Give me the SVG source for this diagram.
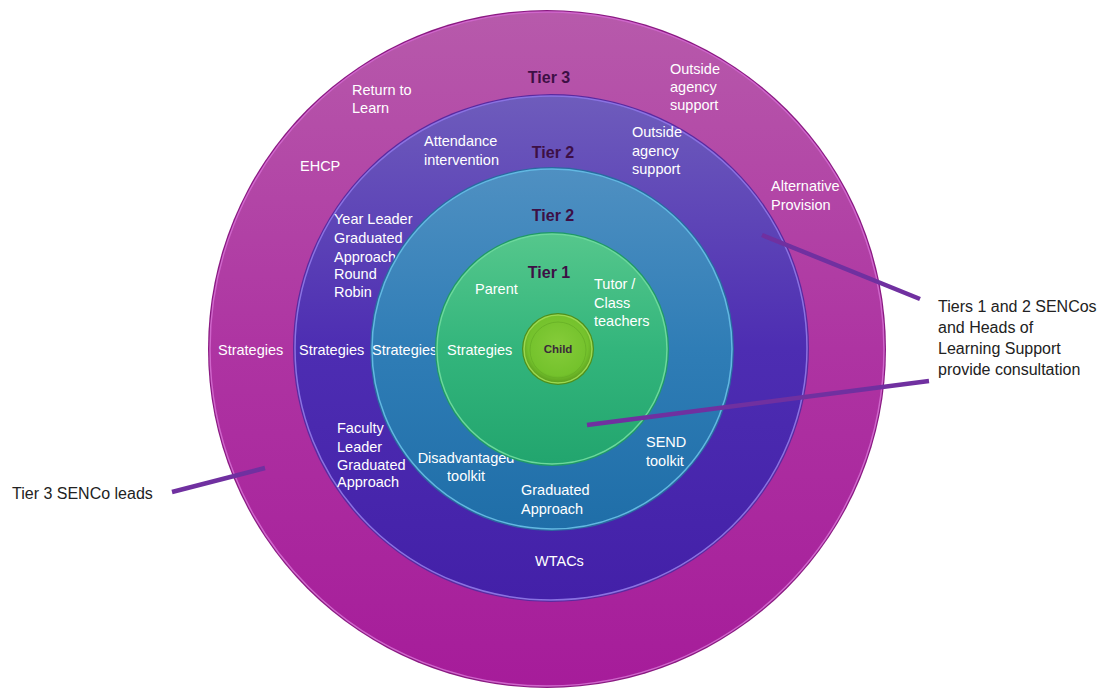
<svg xmlns="http://www.w3.org/2000/svg" width="1105" height="688" viewBox="0 0 1105 688">
<defs>
<linearGradient id="gPink" x1="0" y1="0" x2="0" y2="1">
<stop offset="0" stop-color="#b75aab"/><stop offset="0.5" stop-color="#ae34a2"/><stop offset="1" stop-color="#a61c9a"/>
</linearGradient>
<linearGradient id="gPurple" x1="0" y1="0" x2="0" y2="1">
<stop offset="0" stop-color="#6e5cbc"/><stop offset="0.5" stop-color="#4d2db2"/><stop offset="1" stop-color="#4320a8"/>
</linearGradient>
<linearGradient id="gBlue" x1="0" y1="0" x2="0" y2="1">
<stop offset="0" stop-color="#4f90c2"/><stop offset="0.5" stop-color="#2f7db6"/><stop offset="1" stop-color="#1f6ea8"/>
</linearGradient>
<linearGradient id="gGreen" x1="0" y1="0" x2="0" y2="1">
<stop offset="0" stop-color="#55c78c"/><stop offset="0.5" stop-color="#33b57c"/><stop offset="1" stop-color="#22a56e"/>
</linearGradient>
<radialGradient id="gChild" cx="0.5" cy="0.45" r="0.55">
<stop offset="0" stop-color="#86cc3a"/><stop offset="0.8" stop-color="#74c22c"/><stop offset="1" stop-color="#5c9e1e"/>
</radialGradient>
</defs>
<style>
.w{font-family:"Liberation Sans",Arial,sans-serif;font-size:14.5px;fill:#ffffff;}
.tier{font-family:"Liberation Sans",Arial,sans-serif;font-size:16px;font-weight:bold;fill:#3d0f45;text-anchor:middle;}
.lbl{font-family:"Liberation Sans",Arial,sans-serif;font-size:16px;fill:#222222;}
.con{stroke:#7030a0;stroke-width:4.5;stroke-linecap:butt;fill:none;}
</style>
<rect width="1105" height="688" fill="#ffffff"/>

<g id="tier3">
<circle cx="547" cy="349" r="339" fill="#8a1a82"/>
<circle cx="547" cy="349" r="337" fill="url(#gPink)" stroke="#cf66cb" stroke-width="1.5"/>
<text class="tier" x="549" y="83">Tier 3</text>
<text class="w" x="352" y="95">Return to</text>
<text class="w" x="352" y="113">Learn</text>
<text class="w" x="670" y="74">Outside</text>
<text class="w" x="670" y="92">agency</text>
<text class="w" x="670" y="110">support</text>
<text class="w" x="300" y="171">EHCP</text>
<text class="w" x="771" y="191">Alternative</text>
<text class="w" x="771" y="210">Provision</text>
<text class="w" x="218" y="355">Strategies</text>
</g>

<g id="tier2-outer">
<ellipse cx="551" cy="348" rx="258" ry="254" fill="#5a2aa0"/>
<ellipse cx="551" cy="348" rx="256" ry="252" fill="url(#gPurple)" stroke="#8a72e2" stroke-width="1.5"/>
<text class="tier" x="553" y="158">Tier 2</text>
<text class="w" x="424" y="146">Attendance</text>
<text class="w" x="424" y="165">intervention</text>
<text class="w" x="632" y="137">Outside</text>
<text class="w" x="632" y="156">agency</text>
<text class="w" x="632" y="174">support</text>
<text class="w" x="334" y="224">Year Leader</text>
<text class="w" x="334" y="243">Graduated</text>
<text class="w" x="334" y="262">Approach</text>
<text class="w" x="334" y="279">Round</text>
<text class="w" x="334" y="297">Robin</text>
<text class="w" x="299" y="355">Strategies</text>
<text class="w" x="337" y="433">Faculty</text>
<text class="w" x="337" y="452">Leader</text>
<text class="w" x="337" y="470">Graduated</text>
<text class="w" x="337" y="487">Approach</text>
<text class="w" x="535" y="566">WTACs</text>
</g>

<g id="tier2-inner">
<circle cx="552" cy="349" r="182" fill="#2a6aa0"/>
<circle cx="552" cy="349" r="180" fill="url(#gBlue)" stroke="#62b8e2" stroke-width="1.5"/>
<text class="tier" x="553" y="221">Tier 2</text>
<text class="w" x="372" y="355">Strategies</text>
<text class="w" x="466" y="463" text-anchor="middle">Disadvantaged</text>
<text class="w" x="466" y="481" text-anchor="middle">toolkit</text>
<text class="w" x="521" y="495">Graduated</text>
<text class="w" x="521" y="514">Approach</text>
<text class="w" x="646" y="447">SEND</text>
<text class="w" x="646" y="466">toolkit</text>
</g>

<g id="tier1">
<circle cx="552" cy="349" r="117" fill="#1f9a66"/>
<circle cx="552" cy="349" r="115" fill="url(#gGreen)" stroke="#6cd89c" stroke-width="1.5"/>
<text class="tier" x="549" y="278">Tier 1</text>
<text class="w" x="475" y="294">Parent</text>
<text class="w" x="594" y="289">Tutor /</text>
<text class="w" x="594" y="308">Class</text>
<text class="w" x="594" y="326">teachers</text>
<text class="w" x="447" y="355">Strategies</text>
</g>

<g id="child">
<circle cx="558" cy="349" r="36" fill="#4f8f1a"/>
<circle cx="558" cy="349" r="34" fill="url(#gChild)" stroke="#9ad850" stroke-width="1.5"/>
<circle cx="558" cy="350" r="28" fill="none" stroke="#66ae26" stroke-width="0.8"/>
<text x="558" y="353" text-anchor="middle" style="font-family:'Liberation Sans',Arial,sans-serif;font-size:11.5px;font-weight:bold;fill:#3a2a3a;">Child</text>
</g>

<g id="connectors">
<line class="con" x1="762" y1="235" x2="920" y2="299"/>
<line class="con" x1="587" y1="425" x2="929" y2="381"/>
<line class="con" x1="172" y1="492" x2="265" y2="468"/>
</g>

<g id="label-right">
<text class="lbl" x="938" y="312">Tiers 1 and 2 SENCos</text>
<text class="lbl" x="938" y="333">and Heads of</text>
<text class="lbl" x="938" y="354">Learning Support</text>
<text class="lbl" x="938" y="375">provide consultation</text>
</g>
<g id="label-left">
<text class="lbl" x="12" y="499">Tier 3 SENCo leads</text>
</g>
</svg>
